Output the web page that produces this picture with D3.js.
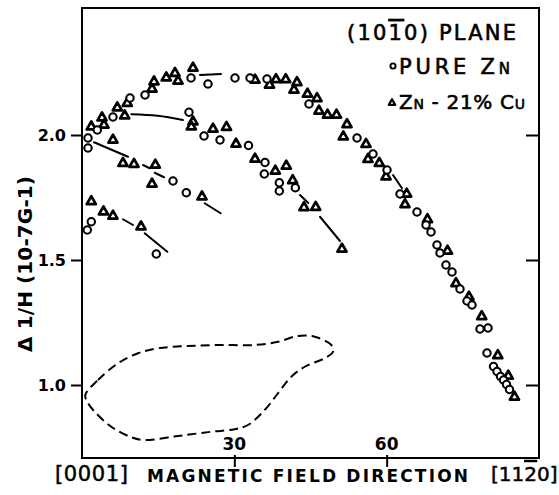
<!DOCTYPE html>
<html><head><meta charset="utf-8">
<script src="https://cdn.jsdelivr.net/npm/d3@7"></script>
<style>body{margin:0;background:#fff} svg{display:block}</style>
</head><body>
<svg id="c" width="559" height="495"></svg>
<script>
// Pure Zn (open circles): [angle (deg), Δ(1/H)]
const pureZn = [
  [1.18,1.988],[1.18,1.948],[3.01,2.02],[6.10,2.072],[9.45,2.148],[12.41,2.16],
  [21.47,2.228],[24.81,2.204],[30.13,2.228],[33.09,2.228],[36.43,2.224],[44.70,2.124],
  [54.16,1.988],[57.31,1.924],[60.07,1.86],[62.63,1.764],[65.97,1.692],[67.75,1.64],
  [68.73,1.612],[69.91,1.56],[70.50,1.528],[71.68,1.48],[72.87,1.452],[74.44,1.384],
  [75.82,1.336],[76.81,1.32],[78.38,1.224],[79.96,1.228],[79.76,1.128],[81.04,1.074],
  [81.73,1.054],[82.42,1.034],[83.01,1.02],[83.60,1.002],[84.19,0.982],
  [21.07,2.091],[24.03,1.996],[27.18,1.98],[32.79,1.958],[36.04,1.89],[35.90,1.844],
  [38.86,1.809],[38.86,1.776],[42.01,1.789],
  [17.92,1.816],[20.54,1.769],
  [1.83,1.653],[1.04,1.62],[14.63,1.524]
];
// Zn-21% Cu (triangles)
const znCu = [
  [1.83,2.033],[3.94,2.069],[4.33,2.04],[6.95,2.109],[8.41,2.077],[8.92,2.127],
  [13.79,2.184],[14.18,2.213],[16.60,2.229],[18.31,2.247],[18.91,2.216],[21.86,2.268],
  [34.07,2.22],[36.93,2.2],[38.21,2.222],[40.12,2.222],[42.34,2.21],[41.75,2.18],
  [44.41,2.164],[46.28,2.146],[46.67,2.096],[48.35,2.08],[50.12,2.08],[52.19,2.042],
  [51.46,1.993],[55.93,1.963],[56.32,1.903],[58.55,1.887],[59.87,1.833],[63.94,1.764],
  [63.61,1.722],[68.04,1.662],[71.98,1.536],[73.65,1.406],[76.21,1.352],[78.72,1.274],
  [81.89,1.118],[83.95,1.036],[85.17,0.952],
  [21.86,2.053],[21.53,2.033],[25.80,2.024],[28.46,2.031],[30.33,1.964],[34.07,1.904],
  [38.07,1.856],[40.23,1.876],[41.49,1.818],[43.72,1.71],[46.02,1.711],[51.20,1.544],
  [6.10,1.98],[8.07,1.887],[10.24,1.883],[14.44,1.88],[13.79,1.804],[23.63,1.753],
  [1.83,1.734],[4.23,1.693],[6.10,1.676],[11.62,1.633]
];
// hand-drawn fit curve segments
const fitSegments = [
  [[23.24,2.24],[27.37,2.244]],
  [[9.71,2.083],[14.91,2.077],[19.89,2.06]],
  [[42.93,1.76],[44.57,1.728]],
  [[46.87,1.673],[50.81,1.576]],
  [[61.25,1.84],[63.02,1.787]],
  [[2.36,1.971],[9.06,1.913]],
  [[12.01,1.88],[13.33,1.867]],
  [[14.32,1.849],[16.15,1.831]],
  [[24.16,1.727],[27.31,1.687]],
  [[8.07,1.663],[10.04,1.64]],
  [[12.35,1.607],[16.8,1.533]]
];
// dashed closed loop
const dashedLoop = [
  [0.65,0.96],[3.15,1.02],[7.09,1.087],[11.03,1.127],[14.97,1.147],[20.87,1.156],
  [27.43,1.16],[34.01,1.16],[38.6,1.173],[42.54,1.196],[45.83,1.193],[49.1,1.16],
  [49.43,1.133],[47.8,1.107],[43.86,1.073],[41.22,1.033],[38.6,0.967],[35.98,0.90],
  [32.69,0.84],[30.07,0.823],[25.46,0.813],[18.9,0.796],[12.35,0.78],[9.71,0.791],
  [5.77,0.833],[2.5,0.893],[1.04,0.933]
];
const yTicks = [1.0, 1.5, 2.0];
const yTickLabels = ["1.0", "1.5", "2.0"];
const xTicks = [30, 60];
const xTickLabels = ["30", "60"];
const xDomain = [0, 90];
const yDomain = [0.708, 2.508];

const svg = d3.select("#c");
const x = d3.scaleLinear().domain(xDomain).range([82, 539]);
const y = d3.scaleLinear().domain(yDomain).range([458, 8]);
const font = "'DejaVu Sans', sans-serif";

// frame
svg.append("rect").attr("x", x(0)).attr("y", y(yDomain[1]))
  .attr("width", x(90) - x(0)).attr("height", y(yDomain[0]) - y(yDomain[1]))
  .attr("fill", "none").attr("stroke", "#000").attr("stroke-width", 2);

// left ticks (outside)
const leftAxis = d3.axisLeft(y).tickValues(yTicks).tickFormat((d, i) => yTickLabels[i])
  .tickSize(11).tickPadding(5);
const gl = svg.append("g").attr("transform", `translate(${x(0)},0)`).call(leftAxis);
gl.select(".domain").remove();
gl.selectAll("line").attr("stroke-width", 2);
gl.selectAll("text").attr("font-family", font).attr("font-weight", "bold").attr("font-size", 16);

// right ticks (inside)
const rightAxis = d3.axisLeft(y).tickValues(yTicks).tickFormat("").tickSize(13);
const gr = svg.append("g").attr("transform", `translate(${x(90)},0)`).call(rightAxis);
gr.select(".domain").remove();
gr.selectAll("line").attr("stroke-width", 2);

// bottom ticks crossing axis, labels inside above axis
const bottomAxis = d3.axisBottom(x).tickValues(xTicks).tickFormat("").tickSizeInner(9).tickSizeOuter(0);
const gb = svg.append("g").attr("transform", `translate(0,${y(yDomain[0])})`).call(bottomAxis);
gb.select(".domain").remove();
gb.selectAll("line").attr("y1", -3).attr("stroke-width", 2);
svg.append("g").selectAll("text").data(xTicks).join("text")
  .attr("x", d => x(d)).attr("y", y(yDomain[0]) - 8)
  .attr("text-anchor", "middle").attr("font-family", font).attr("font-weight", "bold")
  .attr("font-size", 17).text((d, i) => xTickLabels[i]);

// dashed loop
svg.append("path").datum(dashedLoop)
  .attr("d", d3.line().x(d => x(d[0])).y(d => y(d[1])).curve(d3.curveCatmullRomClosed))
  .attr("fill", "none").attr("stroke", "#000").attr("stroke-width", 2)
  .attr("stroke-dasharray", "9,5");

// fit segments
const seg = d3.line().x(d => x(d[0])).y(d => y(d[1])).curve(d3.curveCatmullRom);
svg.append("g").selectAll("path").data(fitSegments).join("path")
  .attr("d", seg).attr("fill", "none").attr("stroke", "#000").attr("stroke-width", 2)
  .attr("stroke-linecap", "round");

// markers
svg.append("g").selectAll("path").data(znCu).join("path")
  .attr("transform", d => `translate(${x(d[0])},${y(d[1])})`)
  .attr("d", d3.symbol(d3.symbolTriangle, 36))
  .attr("fill", "#fff").attr("stroke", "#000").attr("stroke-width", 2.7)
  .attr("stroke-linejoin", "round");
svg.append("g").selectAll("circle").data(pureZn).join("circle")
  .attr("cx", d => x(d[0])).attr("cy", d => y(d[1])).attr("r", 3.7)
  .attr("fill", "#fff").attr("stroke", "#000").attr("stroke-width", 2.1);

// legend (normal weight, slightly thickened by a thin stroke)
const t1 = svg.append("text").attr("x", 347).attr("y", 40).attr("font-family", font)
  .attr("font-size", 21).attr("letter-spacing", 2.2)
  .attr("stroke", "#000").attr("stroke-width", 0.6);
t1.append("tspan").text("(10");
t1.append("tspan").style("text-decoration", "overline").text("1");
t1.append("tspan").text("0) PLANE");

svg.append("circle").attr("cx", 393).attr("cy", 66).attr("r", 2.6)
  .attr("fill", "#fff").attr("stroke", "#000").attr("stroke-width", 1.9);
const t2 = svg.append("text").attr("x", 399).attr("y", 74).attr("font-family", font)
  .attr("font-size", 21).attr("textLength", 111).attr("lengthAdjust", "spacing")
  .attr("stroke", "#000").attr("stroke-width", 0.6);
t2.append("tspan").text("PURE Z");
t2.append("tspan").attr("font-size", 15).text("N");

svg.append("path").attr("transform", "translate(392,103)")
  .attr("d", d3.symbol(d3.symbolTriangle, 18))
  .attr("fill", "#fff").attr("stroke", "#000").attr("stroke-width", 2.2)
  .attr("stroke-linejoin", "round");
const t3 = svg.append("text").attr("x", 399).attr("y", 108.5).attr("font-family", font)
  .attr("font-size", 20).attr("textLength", 126).attr("lengthAdjust", "spacing")
  .attr("stroke", "#000").attr("stroke-width", 0.6);
t3.append("tspan").text("Z");
t3.append("tspan").attr("font-size", 14).text("N");
t3.append("tspan").text(" - 21% C");
t3.append("tspan").attr("font-size", 14).text("U");

// axis titles
svg.append("text").attr("transform", "translate(32,264) rotate(-90)")
  .attr("text-anchor", "middle").attr("font-family", font).attr("font-weight", "bold")
  .attr("font-size", 20).attr("textLength", 176).attr("lengthAdjust", "spacing")
  .text("Δ 1/H (10-7G-1)");

svg.append("text").attr("x", 55).attr("y", 481).attr("font-family", font)
  .attr("font-size", 21).attr("textLength", 73).attr("lengthAdjust", "spacing")
  .attr("stroke", "#000").attr("stroke-width", 0.5)
  .text("[0001]");
svg.append("text").attr("x", 147).attr("y", 482).attr("font-family", font)
  .attr("font-weight", "bold").attr("font-size", 17).attr("textLength", 321)
  .attr("lengthAdjust", "spacing").text("MAGNETIC FIELD DIRECTION");
const t4 = svg.append("text").attr("x", 491).attr("y", 481).attr("font-family", font)
  .attr("font-size", 20).attr("stroke", "#000").attr("stroke-width", 0.5);
t4.append("tspan").text("[11");
t4.append("tspan").style("text-decoration", "overline").text("2");
t4.append("tspan").text("0]");
</script>
</body></html>
